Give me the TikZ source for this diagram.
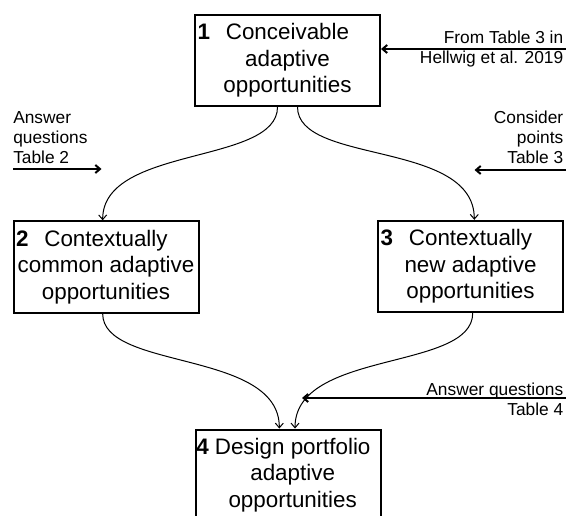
\documentclass[tikz,border=0pt]{standalone}
\usepackage{fontspec}
\setmainfont{Liberation Sans}
\usetikzlibrary{arrows.meta}

\tikzset{
  stagebox/.style={draw, line width=1.5pt, minimum width=138.75pt, minimum height=68.5pt, inner sep=0pt, align=center, font=\fontsize{16.8}{20}\selectfont},
  stagenum/.style={anchor=base west, inner sep=0pt, font=\fontsize{16.8}{20}\selectfont\bfseries},
  note/.style={inner sep=0pt, font=\fontsize{13}{15}\selectfont},
  flow/.style={line width=0.75pt, -{Straight Barb[length=3.5pt,width=6pt]}},
  feed/.style={line width=1.5pt, -{Straight Barb[length=3.5pt,width=6pt]}}
}

\begin{document}
\begin{tikzpicture}[x=0.75pt,y=0.75pt,yscale=-1,xscale=1]
\clip (0,0) rectangle (566,516);

%Shape: Rectangle
\node[stagebox] (box1) at (287.5,60.3) {Conceivable\\adaptive\\opportunities};
\node[stagebox] (box2) at (106,267) {Contextually\\common adaptive\\opportunities};
\node[stagebox] (box3) at (470.5,266.5) {Contextually\\new adaptive\\opportunities};
\node[stagebox] (box4) at (288,475.2) {\hspace*{7pt}Design portfolio\\\hspace*{7pt}adaptive\\\hspace*{7pt}opportunities};

% Text Node
\node[stagenum] (num1) at ([xshift=2.6pt,yshift=19.4pt]box1.north west) {1};
\node[stagenum] (num2) at ([xshift=2.6pt,yshift=19.4pt]box2.north west) {2};
\node[stagenum] (num3) at ([xshift=2.6pt,yshift=19.4pt]box3.north west) {3};
\node[stagenum] (num4) at ([xshift=1.2pt,yshift=19.4pt]box4.north west) {4};

%Curve Lines
\draw[flow] ([xshift=-7.5pt]box1.south) .. controls +(0,58) and +(0,-75) .. ([xshift=-2.5pt]box2.north);
\draw[flow] ([xshift=7.5pt]box1.south) .. controls +(0,58) and +(0,-80) .. ([xshift=2.85pt]box3.north);
\draw[flow] ([xshift=-2.5pt]box2.south) .. controls +(0,57) and +(0,-79) .. ([xshift=-6.5pt]box4.north);
\draw[flow] ([xshift=1.65pt]box3.south) .. controls +(0,58) and +(0,-79) .. ([xshift=5.25pt]box4.north);

% Text Node
\node[note, anchor=base east, align=right] (note1) at (563.5,63.3) {From Table 3 in\\Hellwig et al. 2019};
\node[note, anchor=base west, align=left] (note2) at (13,164) {Answer\\questions\\Table 2};
\node[note, anchor=base east, align=right] (note3) at (563.5,163.3) {Consider\\points\\Table 3};
\node[note, anchor=base east, align=right] (note4) at (563.5,415) {Answer questions\\Table 4};

%Straight Lines
\coordinate (src1) at (566,49);
\coordinate (src2) at (13,169);
\coordinate (tip2) at (101.5,169);
\coordinate (src3) at (566,170);
\coordinate (tip3) at (474.5,170);
\coordinate (src4) at (566,398);
\coordinate (tip4) at (302,398);
\draw[feed] (src1) -- (src1 -| box1.east);
\draw[feed] (src2) -- (tip2);
\draw[feed] (src3) -- (tip3);
\draw[feed] (src4) -- (tip4);

\end{tikzpicture}
\end{document}
